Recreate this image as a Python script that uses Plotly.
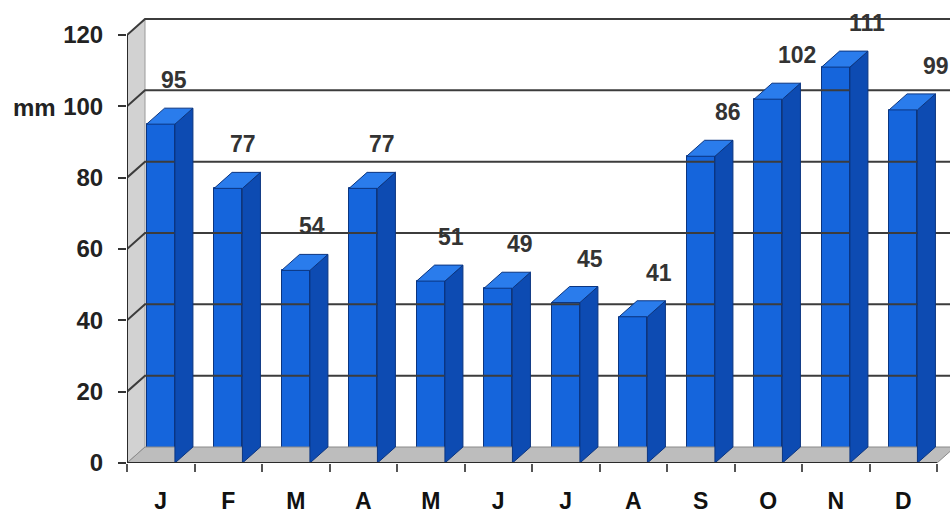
import plotly.graph_objects as go

months = ["J", "F", "M", "A", "M", "J", "J", "A", "S", "O", "N", "D"]
rain_mm = [95, 77, 54, 77, 51, 49, 45, 41, 86, 102, 111, 99]
y_ticks = [0, 20, 40, 60, 80, 100, 120]
unit_label = "mm"

# style / geometry constants
W_PX, H_PX = 950, 520
L, B, T = 127, 57, 5
CAT_PX = 67.5
MM_PX = 428 / 120.0
BAR_W = 0.42
DX = 18 / CAT_PX          # depth offset in category units
DY = 16 / MM_PX           # depth offset in mm
FRONT = "#1565dc"
SIDE = "#0d4bb2"
TOP = "#2a7cec"
EDGE = "#0b3580"
GRID = "#3c3c3c"
FONT = "Liberation Sans"

xs = list(range(len(months)))
x_lo = -0.5
x_hi = x_lo + (W_PX - L) / CAT_PX
y_hi = (H_PX - B - T) / MM_PX
n = len(months)
ymax = y_ticks[-1]

fig = go.Figure()

# left wall
fig.add_trace(go.Scatter(
    x=[x_lo, x_lo + DX, x_lo + DX, x_lo, x_lo],
    y=[0, DY, ymax + DY, ymax, 0],
    fill="toself", fillcolor="#d2d2d2", mode="lines",
    line=dict(color="#9a9a9a", width=1), hoverinfo="skip", showlegend=False))

# floor
fig.add_trace(go.Scatter(
    x=[x_lo, n - 0.5, n - 0.5 + DX, x_lo + DX, x_lo],
    y=[0, 0, DY, DY, 0],
    fill="toself", fillcolor="#bdbdbd", mode="lines",
    line=dict(color="#8a8a8a", width=1), hoverinfo="skip", showlegend=False))

# back-wall gridlines + diagonals on the left wall
gx, gy = [], []
for t in y_ticks[1:]:
    gx += [x_lo, x_lo + DX, x_hi + 1, None]
    gy += [t, t + DY, t + DY, None]
fig.add_trace(go.Scatter(x=gx, y=gy, mode="lines",
                         line=dict(color=GRID, width=2),
                         hoverinfo="skip", showlegend=False))

# side faces
sx, sy = [], []
for i, v in zip(xs, rain_mm):
    r = i + BAR_W / 2
    sx += [r, r + DX, r + DX, r, r, None]
    sy += [0, DY, v + DY, v, 0, None]
fig.add_trace(go.Scatter(x=sx, y=sy, fill="toself", fillcolor=SIDE, mode="lines",
                         line=dict(color=EDGE, width=1),
                         hoverinfo="skip", showlegend=False))

# top faces
tx, ty = [], []
for i, v in zip(xs, rain_mm):
    l, r = i - BAR_W / 2, i + BAR_W / 2
    tx += [l, r, r + DX, l + DX, l, None]
    ty += [v, v, v + DY, v + DY, v, None]
fig.add_trace(go.Scatter(x=tx, y=ty, fill="toself", fillcolor=TOP, mode="lines",
                         line=dict(color=EDGE, width=1),
                         hoverinfo="skip", showlegend=False))

# axis lines
fig.add_trace(go.Scatter(x=[x_lo, n - 0.5, None, x_lo, x_lo],
                         y=[0, 0, None, 0, ymax], mode="lines",
                         line=dict(color="#2a2a2a", width=2),
                         hoverinfo="skip", showlegend=False))

# front faces
fig.add_trace(go.Bar(x=xs, y=rain_mm, width=BAR_W,
                     marker=dict(color=FRONT, line=dict(color=EDGE, width=1)),
                     hoverinfo="skip", showlegend=False))

# value labels
for i, v in zip(xs, rain_mm):
    fig.add_annotation(x=i + (13 + 1.8 * i) / CAT_PX, y=v + DY, text=str(v),
                       showarrow=False, yshift=28,
                       font=dict(family=FONT, size=23, color="#333333", weight="bold"))

fig.add_annotation(xref="paper", yref="y", x=(11 - L) / (W_PX - L), y=100,
                   xanchor="left", yshift=-1, text=unit_label, showarrow=False,
                   font=dict(family=FONT, size=24, color="#222222", weight="bold"))

fig.update_layout(
    width=W_PX, height=H_PX,
    margin=dict(l=L, r=0, t=T, b=B),
    paper_bgcolor="white", plot_bgcolor="white",
    bargap=0,
    xaxis=dict(range=[x_lo, x_hi], tickmode="array", tickvals=xs, ticktext=months,
               ticks="", showgrid=False, zeroline=False, showline=False,
               ticklabelstandoff=22,
               tickfont=dict(family=FONT, size=23, color="#111111", weight="bold"),
               minor=dict(tick0=-0.5, dtick=1, ticks="outside", ticklen=8,
                          tickcolor="#555555", tickwidth=2, showgrid=False)),
    yaxis=dict(range=[0, y_hi], tickmode="array", tickvals=y_ticks,
               ticks="outside", ticklen=8, tickwidth=2, tickcolor="#333333",
               showgrid=False, zeroline=False, showline=False,
               ticklabelstandoff=10,
               tickfont=dict(family=FONT, size=24, color="#222222", weight="bold")),
)

fig.write_html("out.html")
